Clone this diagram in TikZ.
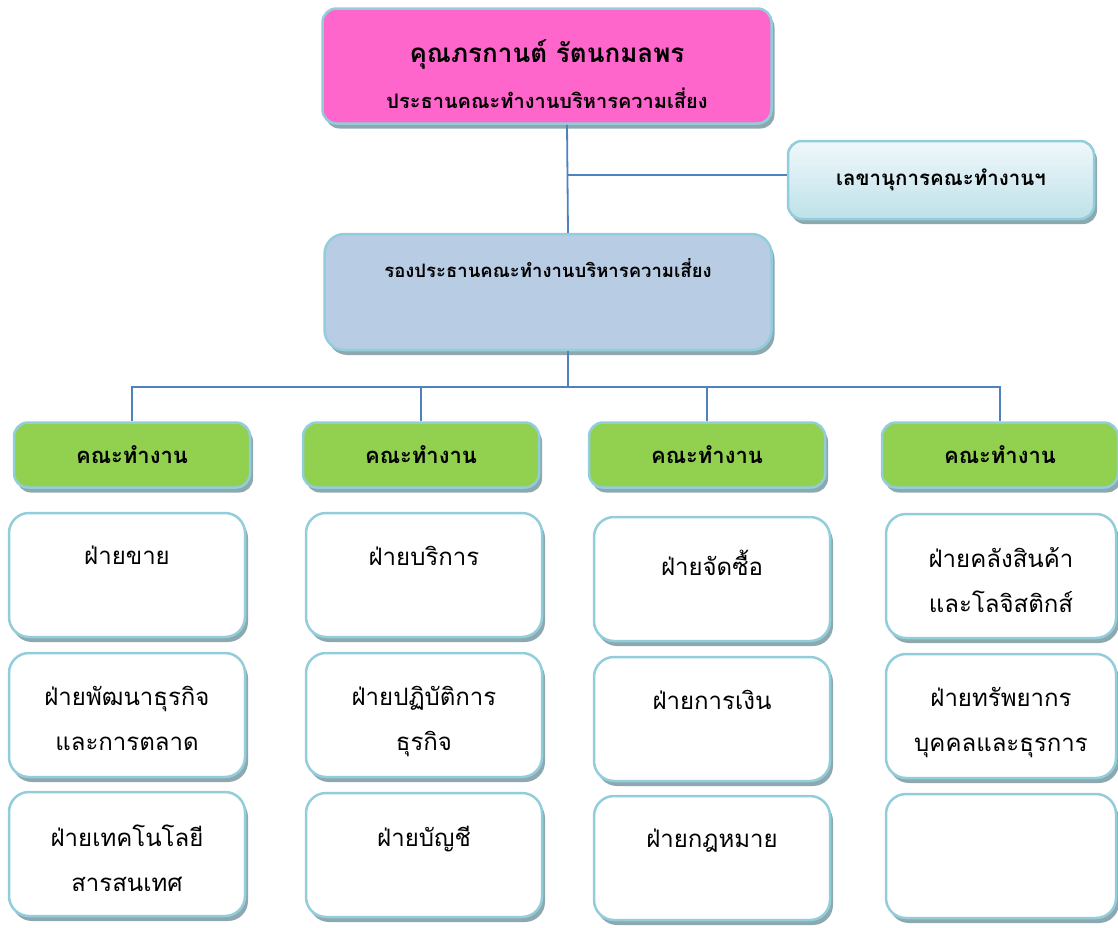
\documentclass[tikz,border=0pt]{standalone}
\usepackage{fontspec}
\newfontfamily\thaifont[Script=Thai]{Loma}
\usetikzlibrary{shadows}

\definecolor{chairpink}{RGB}{255,102,204}
\definecolor{vicesteel}{RGB}{184,204,228}
\definecolor{teamgreen}{RGB}{146,208,80}
\definecolor{edgeblue}{RGB}{146,205,220}
\definecolor{shadowgrey}{RGB}{142,168,176}
\definecolor{linkblue}{RGB}{79,129,189}
\definecolor{sectop}{RGB}{240,248,250}
\definecolor{secbottom}{RGB}{190,225,234}

\tikzset{
  box/.style={draw=edgeblue, line width=2.5pt, rounded corners=14pt,
    drop shadow={shadow xshift=3pt, shadow yshift=-5pt, fill=shadowgrey, opacity=1}},
  team/.style={box, fill=teamgreen, minimum width=236, minimum height=65,
    font=\thaifont\bfseries\fontsize{22}{26}\selectfont},
  unit/.style={box, fill=white, rounded corners=20pt, minimum width=236, minimum height=124},
  unittext/.style={anchor=north, yshift=-31pt, align=center,
    font=\thaifont\fontsize{24}{45}\selectfont},
  link/.style={draw=linkblue, line width=1.8pt}
}

\begin{document}
\begin{tikzpicture}[x=1pt,y=-1pt]

\useasboundingbox (0,0) rectangle (1118,927);

% Chair and vice chair
\node[box, fill=chairpink, minimum width=449, minimum height=115] (chair) at (547,66) {};
\node[align=center, font=\thaifont\bfseries] (chairname) at ([yshift=-8pt]chair.center)
  {{\fontsize{26}{30}\selectfont คุณภรกานต์ รัตนกมลพร}\\[18pt]
   {\fontsize{20}{24}\selectfont ประธานคณะทำงานบริหารความเสี่ยง}};
\node[box, top color=sectop, bottom color=secbottom, minimum width=306, minimum height=78,
  font=\thaifont\bfseries\fontsize{20.5}{24}\selectfont] (sec) at (941,180) {เลขานุการคณะทำงานฯ};
\node[box, fill=vicesteel, rounded corners=20pt, minimum width=447, minimum height=116,
  label={[anchor=north, yshift=-22pt, font=\thaifont\bfseries\fontsize{18.5}{22}\selectfont]north:รองประธานคณะทำงานบริหารความเสี่ยง}]
  (vice) at (548,292) {};

% Teams
\node[team] (team1) at (132,455) {คณะทำงาน};
\node[team] (team2) at (421,455) {คณะทำงาน};
\node[team] (team3) at (707,455) {คณะทำงาน};
\node[team] (team4) at (1000,455) {คณะทำงาน};

% Column 1
\node[unit, label={[unittext]north:ฝ่ายขาย}] (u11) at (127,575) {};
\node[unit, label={[unittext]north:{ฝ่ายพัฒนาธุรกิจ\\และการตลาด}}] (u12) at (127,715) {};
\node[unit, label={[unittext]north:{ฝ่ายเทคโนโลยี\\สารสนเทศ}}] (u13) at (127,854) {};

% Column 2
\node[unit, label={[unittext]north:ฝ่ายบริการ}] (u21) at (424,575) {};
\node[unit, label={[unittext]north:{ฝ่ายปฏิบัติการ\\ธุรกิจ}}] (u22) at (424,715) {};
\node[unit, label={[unittext]north:ฝ่ายบัญชี}] (u23) at (424,855) {};

% Column 3
\node[unit, label={[unittext]north:ฝ่ายจัดซื้อ}] (u31) at (712,579) {};
\node[unit, label={[unittext]north:ฝ่ายการเงิน}] (u32) at (712,719) {};
\node[unit, label={[unittext]north:ฝ่ายกฎหมาย}] (u33) at (712,858) {};

% Column 4
\node[unit, minimum width=230, label={[unittext]north:{ฝ่ายคลังสินค้า\\และโลจิสติกส์}}] (u41) at (1001,576) {};
\node[unit, minimum width=230, label={[unittext]north:{ฝ่ายทรัพยากร\\บุคคลและธุรการ}}] (u42) at (1001,716) {};
\node[unit, minimum width=230] (u43) at (1001,856) {};

% Connectors
\draw[link] ([xshift=20pt]chair.south) -- ([xshift=20pt]vice.north);
\coordinate (tap) at (567,175);
\draw[link] (tap) -- (tap -| sec.west);
\draw[link] ([xshift=20pt]vice.south) -- ++(0,36) coordinate (hub);
\draw[link] (team1.north) |- (team4.north |- hub) -- (team4.north);
\foreach \t in {team2,team3}
  \draw[link] (\t.north) -- (\t.north |- hub);

\end{tikzpicture}
\end{document}
